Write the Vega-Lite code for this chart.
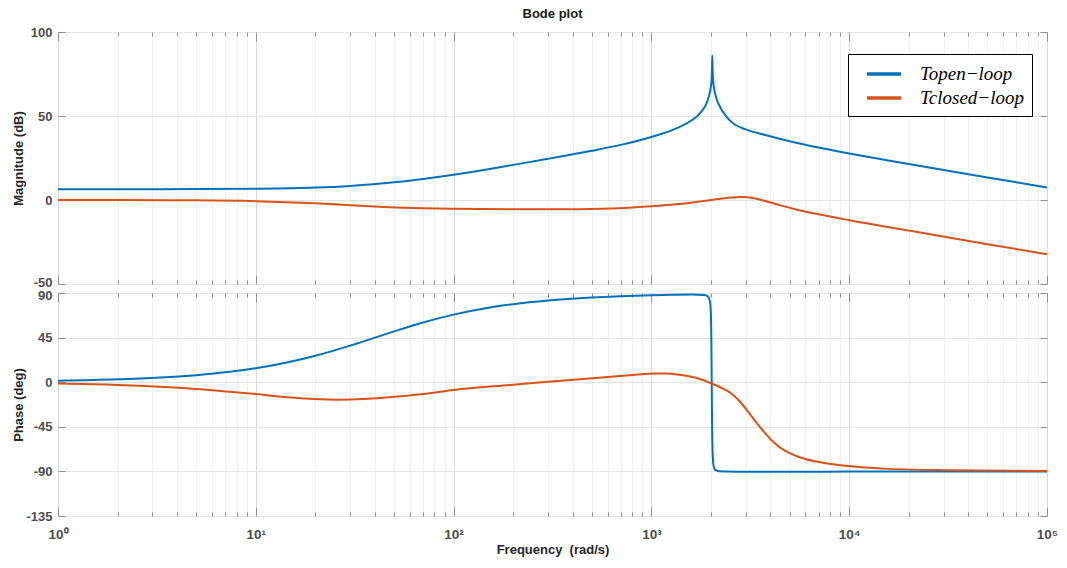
{
  "$schema": "https://vega.github.io/schema/vega-lite/v6.json",
  "background": "white",
  "padding": {"left": 11, "top": 7, "right": 5, "bottom": 5},
  "title": {"text": "Bode plot", "frame": "group", "anchor": "middle", "offset": 5, "fontSize": 13, "fontWeight": "bold", "font": "Liberation Sans", "color": "#1a1a1a"},
  "spacing": 9,
  "bounds": "flush",
  "datasets": {
    "mag": [
      {"series": "Topen−loop", "freq": 1, "value": 6.4},
      {"series": "Topen−loop", "freq": 2, "value": 6.45},
      {"series": "Topen−loop", "freq": 5, "value": 6.5},
      {"series": "Topen−loop", "freq": 10, "value": 6.7},
      {"series": "Topen−loop", "freq": 20, "value": 7.4},
      {"series": "Topen−loop", "freq": 30, "value": 8.4},
      {"series": "Topen−loop", "freq": 50, "value": 10.5},
      {"series": "Topen−loop", "freq": 70, "value": 12.5},
      {"series": "Topen−loop", "freq": 100, "value": 15.0},
      {"series": "Topen−loop", "freq": 150, "value": 18.3},
      {"series": "Topen−loop", "freq": 200, "value": 20.9},
      {"series": "Topen−loop", "freq": 300, "value": 24.5},
      {"series": "Topen−loop", "freq": 500, "value": 29.3},
      {"series": "Topen−loop", "freq": 700, "value": 32.8},
      {"series": "Topen−loop", "freq": 1000, "value": 37.5},
      {"series": "Topen−loop", "freq": 1300, "value": 42.0},
      {"series": "Topen−loop", "freq": 1600, "value": 47.5},
      {"series": "Topen−loop", "freq": 1727, "value": 50.5},
      {"series": "Topen−loop", "freq": 1800, "value": 53.0},
      {"series": "Topen−loop", "freq": 1900, "value": 57.5},
      {"series": "Topen−loop", "freq": 1960, "value": 62.5},
      {"series": "Topen−loop", "freq": 1995, "value": 67.0},
      {"series": "Topen−loop", "freq": 2012, "value": 71.0},
      {"series": "Topen−loop", "freq": 2024, "value": 77.0},
      {"series": "Topen−loop", "freq": 2032, "value": 86.0},
      {"series": "Topen−loop", "freq": 2040, "value": 77.0},
      {"series": "Topen−loop", "freq": 2052, "value": 71.0},
      {"series": "Topen−loop", "freq": 2075, "value": 66.5},
      {"series": "Topen−loop", "freq": 2120, "value": 61.5},
      {"series": "Topen−loop", "freq": 2200, "value": 56.5},
      {"series": "Topen−loop", "freq": 2400, "value": 49.5},
      {"series": "Topen−loop", "freq": 2537, "value": 46.5},
      {"series": "Topen−loop", "freq": 3000, "value": 42.0},
      {"series": "Topen−loop", "freq": 3765, "value": 38.7},
      {"series": "Topen−loop", "freq": 5000, "value": 35.0},
      {"series": "Topen−loop", "freq": 7000, "value": 31.2},
      {"series": "Topen−loop", "freq": 10000, "value": 27.7},
      {"series": "Topen−loop", "freq": 20000, "value": 21.4},
      {"series": "Topen−loop", "freq": 50000, "value": 13.4},
      {"series": "Topen−loop", "freq": 100000, "value": 7.5},
      {"series": "Tclosed−loop", "freq": 1, "value": 0.0},
      {"series": "Tclosed−loop", "freq": 2, "value": -0.05},
      {"series": "Tclosed−loop", "freq": 5, "value": -0.2},
      {"series": "Tclosed−loop", "freq": 10, "value": -0.7},
      {"series": "Tclosed−loop", "freq": 20, "value": -2.0},
      {"series": "Tclosed−loop", "freq": 30, "value": -3.1},
      {"series": "Tclosed−loop", "freq": 44, "value": -4.1},
      {"series": "Tclosed−loop", "freq": 70, "value": -4.9},
      {"series": "Tclosed−loop", "freq": 100, "value": -5.2},
      {"series": "Tclosed−loop", "freq": 200, "value": -5.45},
      {"series": "Tclosed−loop", "freq": 300, "value": -5.5},
      {"series": "Tclosed−loop", "freq": 630, "value": -5.0},
      {"series": "Tclosed−loop", "freq": 1000, "value": -3.7},
      {"series": "Tclosed−loop", "freq": 1370, "value": -2.4},
      {"series": "Tclosed−loop", "freq": 1727, "value": -1.0},
      {"series": "Tclosed−loop", "freq": 2000, "value": 0.0},
      {"series": "Tclosed−loop", "freq": 2400, "value": 1.2},
      {"series": "Tclosed−loop", "freq": 2850, "value": 1.8},
      {"series": "Tclosed−loop", "freq": 3300, "value": 1.1},
      {"series": "Tclosed−loop", "freq": 3765, "value": -0.6},
      {"series": "Tclosed−loop", "freq": 4500, "value": -3.2},
      {"series": "Tclosed−loop", "freq": 5525, "value": -5.9},
      {"series": "Tclosed−loop", "freq": 7000, "value": -8.5},
      {"series": "Tclosed−loop", "freq": 10000, "value": -12.0},
      {"series": "Tclosed−loop", "freq": 20000, "value": -18.2},
      {"series": "Tclosed−loop", "freq": 50000, "value": -26.3},
      {"series": "Tclosed−loop", "freq": 100000, "value": -32.3}
    ],
    "phase": [
      {"series": "Topen−loop", "freq": 1, "value": 1.4},
      {"series": "Topen−loop", "freq": 2, "value": 2.9},
      {"series": "Topen−loop", "freq": 5, "value": 7.1},
      {"series": "Topen−loop", "freq": 10, "value": 14.0},
      {"series": "Topen−loop", "freq": 20, "value": 26.6},
      {"series": "Topen−loop", "freq": 30, "value": 36.9},
      {"series": "Topen−loop", "freq": 50, "value": 51.3},
      {"series": "Topen−loop", "freq": 70, "value": 60.3},
      {"series": "Topen−loop", "freq": 100, "value": 68.2},
      {"series": "Topen−loop", "freq": 150, "value": 75.1},
      {"series": "Topen−loop", "freq": 200, "value": 78.7},
      {"series": "Topen−loop", "freq": 300, "value": 82.4},
      {"series": "Topen−loop", "freq": 500, "value": 85.4},
      {"series": "Topen−loop", "freq": 700, "value": 86.7},
      {"series": "Topen−loop", "freq": 1000, "value": 87.7},
      {"series": "Topen−loop", "freq": 1300, "value": 88.2},
      {"series": "Topen−loop", "freq": 1600, "value": 88.4},
      {"series": "Topen−loop", "freq": 1850, "value": 88.0},
      {"series": "Topen−loop", "freq": 1930, "value": 86.5},
      {"series": "Topen−loop", "freq": 1975, "value": 82.0},
      {"series": "Topen−loop", "freq": 1998, "value": 70.0},
      {"series": "Topen−loop", "freq": 2010, "value": 40.0},
      {"series": "Topen−loop", "freq": 2018, "value": 0.0},
      {"series": "Topen−loop", "freq": 2026, "value": -40.0},
      {"series": "Topen−loop", "freq": 2040, "value": -72.0},
      {"series": "Topen−loop", "freq": 2065, "value": -85.0},
      {"series": "Topen−loop", "freq": 2110, "value": -88.8},
      {"series": "Topen−loop", "freq": 2200, "value": -89.8},
      {"series": "Topen−loop", "freq": 3000, "value": -90.3},
      {"series": "Topen−loop", "freq": 5000, "value": -90.4},
      {"series": "Topen−loop", "freq": 10000, "value": -90.2},
      {"series": "Topen−loop", "freq": 100000, "value": -90.0},
      {"series": "Tclosed−loop", "freq": 1, "value": -1.4},
      {"series": "Tclosed−loop", "freq": 2, "value": -2.8},
      {"series": "Tclosed−loop", "freq": 5, "value": -6.8},
      {"series": "Tclosed−loop", "freq": 10, "value": -12.0},
      {"series": "Tclosed−loop", "freq": 15, "value": -15.4},
      {"series": "Tclosed−loop", "freq": 20, "value": -17.0},
      {"series": "Tclosed−loop", "freq": 26, "value": -17.6},
      {"series": "Tclosed−loop", "freq": 35, "value": -17.0},
      {"series": "Tclosed−loop", "freq": 44, "value": -15.8},
      {"series": "Tclosed−loop", "freq": 70, "value": -12.0},
      {"series": "Tclosed−loop", "freq": 100, "value": -7.8},
      {"series": "Tclosed−loop", "freq": 200, "value": -2.6},
      {"series": "Tclosed−loop", "freq": 300, "value": 0.4},
      {"series": "Tclosed−loop", "freq": 540, "value": 4.4},
      {"series": "Tclosed−loop", "freq": 800, "value": 7.2},
      {"series": "Tclosed−loop", "freq": 1050, "value": 8.8},
      {"series": "Tclosed−loop", "freq": 1200, "value": 8.8},
      {"series": "Tclosed−loop", "freq": 1400, "value": 7.3},
      {"series": "Tclosed−loop", "freq": 1727, "value": 3.7},
      {"series": "Tclosed−loop", "freq": 2010, "value": -1.3},
      {"series": "Tclosed−loop", "freq": 2300, "value": -6.5},
      {"series": "Tclosed−loop", "freq": 2537, "value": -11.4},
      {"series": "Tclosed−loop", "freq": 2800, "value": -19.5},
      {"series": "Tclosed−loop", "freq": 3090, "value": -30.0},
      {"series": "Tclosed−loop", "freq": 3400, "value": -41.0},
      {"series": "Tclosed−loop", "freq": 3765, "value": -51.6},
      {"series": "Tclosed−loop", "freq": 4100, "value": -59.5},
      {"series": "Tclosed−loop", "freq": 4537, "value": -66.7},
      {"series": "Tclosed−loop", "freq": 5000, "value": -71.5},
      {"series": "Tclosed−loop", "freq": 5525, "value": -75.2},
      {"series": "Tclosed−loop", "freq": 6700, "value": -79.8},
      {"series": "Tclosed−loop", "freq": 8110, "value": -82.6},
      {"series": "Tclosed−loop", "freq": 9885, "value": -84.6},
      {"series": "Tclosed−loop", "freq": 15000, "value": -87.2},
      {"series": "Tclosed−loop", "freq": 31600, "value": -88.8},
      {"series": "Tclosed−loop", "freq": 100000, "value": -89.6}
    ]
  },
  "vconcat": [
    {
      "width": 989,
      "height": 252,
      "data": {"name": "mag"},
      "resolve": {"axis": {"x": "independent", "y": "independent"}},
      "layer": [
        {
          "transform": [{"filter": "datum.series === 'Topen−loop'"}],
          "mark": {"type": "line", "strokeWidth": 2, "interpolate": "monotone"},
          "encoding": {
            "x": {"field": "freq", "type": "quantitative", "scale": {"type": "log", "domain": [1, 100000], "nice": false},
              "axis": {"orient": "bottom", "values": [1,2,3,4,5,6,7,8,9,10,20,30,40,50,60,70,80,90,100,200,300,400,500,600,700,800,900,1000,2000,3000,4000,5000,6000,7000,8000,9000,10000,20000,30000,40000,50000,60000,70000,80000,90000,100000],
                "labels": false, "title": null, "grid": true, "minExtent": 0, "maxExtent": 0,
                "gridColor": {"condition": {"test": "indexof([1,10,100,1000,10000,100000], datum.value) >= 0", "value": "#d9d9d9"}, "value": "#efefef"},
                "tickSize": {"condition": {"test": "indexof([1,10,100,1000,10000,100000], datum.value) >= 0", "value": -9}, "value": -4}}},
            "y": {"field": "value", "type": "quantitative", "scale": {"domain": [-50, 100], "nice": false, "zero": false},
              "axis": {"orient": "left", "values": [-50, 0, 50, 100], "labelExpr": "'' + datum.value", "title": "Magnitude (dB)", "grid": true, "gridColor": "#e3e3e3", "tickSize": -7, "labelPadding": 13, "minExtent": 30, "maxExtent": 30, "titlePadding": 3,
                "labelOffset": {"condition": {"test": "datum.value === -50", "value": -2}, "value": 0}}},
            "color": {"field": "series", "type": "nominal", "scale": {"domain": ["Topen−loop", "Tclosed−loop"], "range": ["#0072BD", "#D95319"]},
              "legend": {"orient": "none", "legendX": 790, "legendY": 22, "title": null, "symbolType": "M-1.7,0L1.7,0", "symbolStrokeWidth": 3.5, "symbolSize": 400, "labelFont": "Liberation Serif", "labelFontStyle": "italic", "labelFontSize": 19, "labelColor": "#000000", "strokeColor": "#000000", "fillColor": "#ffffff", "padding": 8, "rowPadding": 2, "labelOffset": 24, "symbolOffset": 16}}
          }
        },
        {
          "transform": [{"filter": "datum.series === 'Tclosed−loop'"}],
          "mark": {"type": "line", "strokeWidth": 2, "interpolate": "monotone"},
          "encoding": {
            "x": {"field": "freq", "type": "quantitative", "scale": {"type": "log", "domain": [1, 100000], "nice": false},
              "axis": {"orient": "top", "values": [1,2,3,4,5,6,7,8,9,10,20,30,40,50,60,70,80,90,100,200,300,400,500,600,700,800,900,1000,2000,3000,4000,5000,6000,7000,8000,9000,10000,20000,30000,40000,50000,60000,70000,80000,90000,100000],
                "labels": false, "title": null, "grid": false, "minExtent": 0, "maxExtent": 0,
                "tickSize": {"condition": {"test": "indexof([1,10,100,1000,10000,100000], datum.value) >= 0", "value": -9}, "value": -4}}},
            "y": {"field": "value", "type": "quantitative", "scale": {"domain": [-50, 100], "nice": false, "zero": false},
              "axis": {"orient": "right", "values": [-50, 0, 50, 100], "labels": false, "title": null, "grid": false, "tickSize": -7, "minExtent": 0, "maxExtent": 0}},
            "color": {"field": "series", "type": "nominal", "scale": {"domain": ["Topen−loop", "Tclosed−loop"], "range": ["#0072BD", "#D95319"]}}
          }
        }
      ]
    },
    {
      "width": 989,
      "height": 223,
      "data": {"name": "phase"},
      "resolve": {"axis": {"x": "independent", "y": "independent"}},
      "layer": [
        {
          "transform": [{"filter": "datum.series === 'Topen−loop'"}],
          "mark": {"type": "line", "strokeWidth": 2, "interpolate": "monotone"},
          "encoding": {
            "x": {"field": "freq", "type": "quantitative", "scale": {"type": "log", "domain": [1, 100000], "nice": false},
              "axis": {"orient": "bottom", "values": [1,2,3,4,5,6,7,8,9,10,20,30,40,50,60,70,80,90,100,200,300,400,500,600,700,800,900,1000,2000,3000,4000,5000,6000,7000,8000,9000,10000,20000,30000,40000,50000,60000,70000,80000,90000,100000],
                "title": "Frequency\u00a0 (rad/s)", "titlePadding": -2, "grid": true, "labelFlush": false, "labelOverlap": false, "labelBound": false, "labelPadding": 20, "labelFontSize": 13.5,
                "labelExpr": "indexof([1,10,100,1000,10000,100000], datum.value) >= 0 ? '10' + ['⁰','¹','²','³','⁴','⁵'][indexof([1,10,100,1000,10000,100000], datum.value)] : ''",
                "gridColor": {"condition": {"test": "indexof([1,10,100,1000,10000,100000], datum.value) >= 0", "value": "#d9d9d9"}, "value": "#efefef"},
                "tickSize": {"condition": {"test": "indexof([1,10,100,1000,10000,100000], datum.value) >= 0", "value": -9}, "value": -4}}},
            "y": {"field": "value", "type": "quantitative", "scale": {"domain": [-135, 90], "nice": false, "zero": false},
              "axis": {"orient": "left", "values": [-135, -90, -45, 0, 45, 90], "labelExpr": "'' + datum.value", "title": "Phase (deg)", "grid": true, "gridColor": "#e3e3e3", "tickSize": -7, "labelPadding": 13, "minExtent": 30, "maxExtent": 30, "titlePadding": 3,
                "labelOffset": {"condition": {"test": "datum.value === 90", "value": 2}, "value": 0}}},
            "color": {"field": "series", "type": "nominal", "scale": {"domain": ["Topen−loop", "Tclosed−loop"], "range": ["#0072BD", "#D95319"]}, "legend": null}
          }
        },
        {
          "transform": [{"filter": "datum.series === 'Tclosed−loop'"}],
          "mark": {"type": "line", "strokeWidth": 2, "interpolate": "monotone"},
          "encoding": {
            "x": {"field": "freq", "type": "quantitative", "scale": {"type": "log", "domain": [1, 100000], "nice": false},
              "axis": {"orient": "top", "values": [1,2,3,4,5,6,7,8,9,10,20,30,40,50,60,70,80,90,100,200,300,400,500,600,700,800,900,1000,2000,3000,4000,5000,6000,7000,8000,9000,10000,20000,30000,40000,50000,60000,70000,80000,90000,100000],
                "labels": false, "title": null, "grid": false, "minExtent": 0, "maxExtent": 0,
                "tickSize": {"condition": {"test": "indexof([1,10,100,1000,10000,100000], datum.value) >= 0", "value": -9}, "value": -4}}},
            "y": {"field": "value", "type": "quantitative", "scale": {"domain": [-135, 90], "nice": false, "zero": false},
              "axis": {"orient": "right", "values": [-135, -90, -45, 0, 45, 90], "labels": false, "title": null, "grid": false, "tickSize": -7, "minExtent": 0, "maxExtent": 0}},
            "color": {"field": "series", "type": "nominal", "scale": {"domain": ["Topen−loop", "Tclosed−loop"], "range": ["#0072BD", "#D95319"]}, "legend": null}
          }
        }
      ]
    }
  ],
  "resolve": {"scale": {"color": "independent"}, "legend": {"color": "independent"}},
  "config": {
    "view": {"stroke": "#8f8f8f", "strokeWidth": 1},
    "font": "Liberation Sans",
    "axis": {"domain": false, "labelFont": "Liberation Sans", "labelFontWeight": "bold", "labelColor": "#4d4d4d", "labelFontSize": 13, "titleFont": "Liberation Sans", "titleFontWeight": "bold", "titleColor": "#262626", "titleFontSize": 13, "tickColor": "#8f8f8f", "gridWidth": 1}
  }
}
